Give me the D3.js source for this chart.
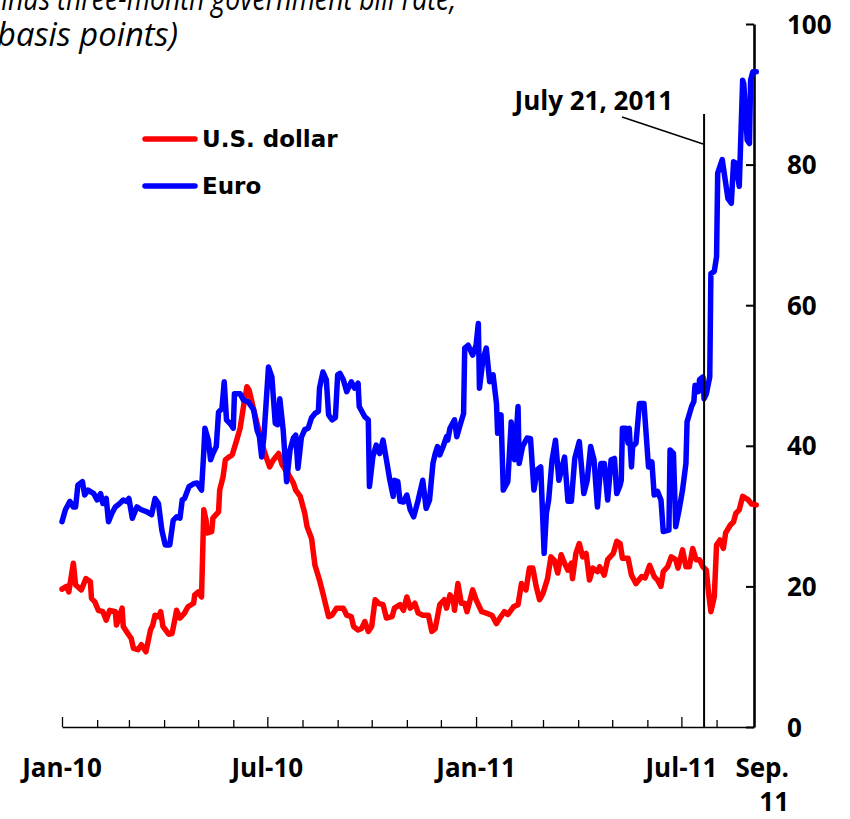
<!DOCTYPE html>
<html>
<head>
<meta charset="utf-8">
<script src="https://cdn.jsdelivr.net/npm/d3@7"></script>
<style>
  body { margin: 0; background: #fff; }
  svg { display: block; }
  .lbl { font-family: "Open Sans", sans-serif; font-weight: 700; font-size: 26px; fill: #000; }
  .ttl { font-family: "Open Sans", sans-serif; font-style: italic; font-size: 32px; fill: #000; }
  .leg { font-family: "DejaVu Sans", sans-serif; font-weight: 700; font-size: 23px; fill: #000; }
</style>
</head>
<body>
<script>
// basis points
const usd = [
  ["2010-01-01",19.6],["2010-01-05",20.0],["2010-01-07",19.2],["2010-01-11",23.3],["2010-01-13",20.2],
  ["2010-01-18",19.5],["2010-01-22",21.1],["2010-01-26",20.7],["2010-01-27",18.3],["2010-01-30",17.8],
  ["2010-02-02",16.6],["2010-02-06",16.4],["2010-02-09",15.2],["2010-02-12",16.6],["2010-02-17",16.4],
  ["2010-02-18",14.5],["2010-02-23",16.9],["2010-02-24",14.3],["2010-02-28",13.3],["2010-03-03",12.6],
  ["2010-03-05",11.2],["2010-03-09",11.0],["2010-03-12",11.7],["2010-03-16",10.7],["2010-03-20",13.8],
  ["2010-03-22",14.5],["2010-03-24",15.9],["2010-03-27",15.7],["2010-03-29",16.4],["2010-03-31",14.3],
  ["2010-04-05",13.2],["2010-04-08",13.3],["2010-04-11",15.7],["2010-04-12",16.6],["2010-04-15",15.5],
  ["2010-04-19",16.2],["2010-04-22",17.1],["2010-04-27",17.6],["2010-04-28",18.8],["2010-05-01",19.2],
  ["2010-05-04",18.5],["2010-05-06",30.9],["2010-05-08",29.4],["2010-05-09",27.6],["2010-05-13",27.8],
  ["2010-05-14",29.7],["2010-05-19",30.6],["2010-05-20",33.7],["2010-05-23",35.6],["2010-05-25",38.0],
  ["2010-05-28",38.4],["2010-05-31",38.7],["2010-06-04",40.8],["2010-06-07",42.5],["2010-06-10",45.6],
  ["2010-06-13",48.4],["2010-06-15",47.9],["2010-06-19",45.1],["2010-06-23",42.5],["2010-06-26",40.4],
  ["2010-06-30",38.4],["2010-07-03",37.0],["2010-07-06",37.9],["2010-07-11",38.9],["2010-07-14",37.3],
  ["2010-07-19",36.1],["2010-07-24",34.7],["2010-07-26",33.7],["2010-07-30",32.8],["2010-08-03",30.4],
  ["2010-08-05",28.5],["2010-08-09",26.8],["2010-08-12",23.0],["2010-08-16",20.9],["2010-08-19",19.0],
  ["2010-08-24",15.7],["2010-08-27",15.9],["2010-08-31",16.9],["2010-09-06",16.9],["2010-09-09",15.9],
  ["2010-09-13",15.7],["2010-09-15",14.3],["2010-09-19",13.8],["2010-09-22",14.0],["2010-09-25",15.0],
  ["2010-09-28",13.6],["2010-10-01",14.3],["2010-10-04",18.1],["2010-10-07",17.6],["2010-10-11",17.4],
  ["2010-10-14",15.5],["2010-10-19",15.7],["2010-10-21",16.9],["2010-10-26",17.4],["2010-10-29",16.6],
  ["2010-11-01",18.5],["2010-11-04",16.9],["2010-11-08",17.6],["2010-11-11",16.2],["2010-11-15",15.9],
  ["2010-11-20",15.9],["2010-11-23",13.6],["2010-11-26",14.0],["2010-11-30",17.4],["2010-12-04",18.1],
  ["2010-12-06",16.9],["2010-12-09",18.8],["2010-12-12",18.1],["2010-12-13",16.6],["2010-12-16",20.4],
  ["2010-12-19",17.6],["2010-12-22",17.6],["2010-12-24",16.4],["2010-12-26",17.6],["2010-12-29",19.5],
  ["2011-01-01",18.1],["2011-01-06",16.4],["2011-01-10",16.2],["2011-01-15",15.9],["2011-01-19",14.7],
  ["2011-01-22",15.5],["2011-01-26",16.4],["2011-01-29",16.0],["2011-02-03",17.1],["2011-02-07",17.4],
  ["2011-02-10",20.4],["2011-02-14",19.5],["2011-02-17",22.6],["2011-02-20",22.6],["2011-02-23",20.0],
  ["2011-02-26",18.1],["2011-03-01",19.0],["2011-03-05",21.1],["2011-03-08",24.2],["2011-03-11",23.7],
  ["2011-03-14",21.9],["2011-03-17",24.5],["2011-03-20",23.3],["2011-03-23",22.3],["2011-03-26",23.3],
  ["2011-03-27",21.1],["2011-03-30",24.7],["2011-04-02",26.1],["2011-04-05",24.2],["2011-04-08",24.7],
  ["2011-04-11",20.9],["2011-04-14",22.6],["2011-04-18",22.1],["2011-04-20",22.8],["2011-04-24",21.6],
  ["2011-04-27",23.8],["2011-05-02",24.7],["2011-05-05",26.4],["2011-05-08",26.1],["2011-05-10",24.0],
  ["2011-05-15",24.0],["2011-05-18",21.6],["2011-05-22",20.4],["2011-05-27",21.4],["2011-05-30",21.2],
  ["2011-06-03",23.0],["2011-06-07",21.4],["2011-06-10",20.9],["2011-06-13",20.0],["2011-06-15",22.1],
  ["2011-06-19",22.8],["2011-06-22",24.2],["2011-06-26",23.8],["2011-06-28",22.6],["2011-07-02",25.2],
  ["2011-07-05",22.8],["2011-07-08",22.8],["2011-07-11",25.4],["2011-07-14",23.8],["2011-07-17",23.8],
  ["2011-07-20",22.8],["2011-07-23",22.3],["2011-07-25",19.0],["2011-07-27",16.4],["2011-07-30",18.5],
  ["2011-08-01",25.9],["2011-08-04",26.6],["2011-08-07",25.4],["2011-08-09",27.6],["2011-08-13",28.7],
  ["2011-08-16",29.2],["2011-08-18",30.4],["2011-08-21",30.9],["2011-08-24",32.8],["2011-08-29",32.3],
  ["2011-09-01",31.7],["2011-09-05",31.6]
];

const eur = [
  ["2010-01-01",29.2],["2010-01-04",30.9],["2010-01-08",32.1],["2010-01-11",31.3],["2010-01-13",31.3],
  ["2010-01-15",34.4],["2010-01-19",34.9],["2010-01-21",33.0],["2010-01-24",33.7],["2010-01-29",33.2],
  ["2010-02-01",32.3],["2010-02-04",33.2],["2010-02-06",31.8],["2010-02-09",32.5],["2010-02-11",29.2],
  ["2010-02-14",30.4],["2010-02-17",31.3],["2010-02-21",31.8],["2010-02-24",32.3],["2010-02-27",32.1],
  ["2010-03-01",32.5],["2010-03-04",29.7],["2010-03-08",31.3],["2010-03-12",30.9],["2010-03-17",30.6],
  ["2010-03-21",30.2],["2010-03-24",32.5],["2010-03-27",31.8],["2010-03-30",28.0],["2010-04-02",25.9],
  ["2010-04-06",25.9],["2010-04-09",29.4],["2010-04-12",29.9],["2010-04-15",29.7],["2010-04-17",32.3],
  ["2010-04-19",32.5],["2010-04-23",34.2],["2010-04-27",34.6],["2010-04-30",34.7],["2010-05-04",33.7],
  ["2010-05-06",39.2],["2010-05-07",42.5],["2010-05-10",40.8],["2010-05-12",38.0],["2010-05-14",38.9],
  ["2010-05-17",39.9],["2010-05-19",44.8],["2010-05-22",45.3],["2010-05-24",49.1],["2010-05-26",43.7],
  ["2010-05-30",43.0],["2010-06-01",42.5],["2010-06-02",47.4],["2010-06-07",47.4],["2010-06-10",46.5],
  ["2010-06-14",46.3],["2010-06-19",45.1],["2010-06-22",42.2],["2010-06-24",41.3],["2010-06-26",38.4],
  ["2010-06-28",41.3],["2010-07-02",51.2],["2010-07-05",49.8],["2010-07-08",43.2],["2010-07-10",43.0],
  ["2010-07-12",46.7],["2010-07-15",42.2],["2010-07-18",34.9],["2010-07-21",39.4],["2010-07-24",41.1],
  ["2010-07-26",41.5],["2010-07-28",36.8],["2010-07-31",41.2],["2010-08-03",42.3],["2010-08-06",42.5],
  ["2010-08-09",44.0],["2010-08-12",44.6],["2010-08-15",44.9],["2010-08-16",48.2],["2010-08-19",50.5],
  ["2010-08-22",49.4],["2010-08-24",44.4],["2010-08-27",43.7],["2010-08-30",44.0],["2010-09-01",50.1],
  ["2010-09-03",50.3],["2010-09-06",49.4],["2010-09-09",47.7],["2010-09-13",49.1],["2010-09-16",48.2],
  ["2010-09-19",48.9],["2010-09-20",45.6],["2010-09-25",44.1],["2010-09-28",43.7],["2010-09-29",34.2],
  ["2010-10-02",38.4],["2010-10-05",40.1],["2010-10-08",38.9],["2010-10-11",40.8],["2010-10-14",38.0],
  ["2010-10-17",35.1],["2010-10-20",32.8],["2010-10-21",35.1],["2010-10-24",34.9],["2010-10-26",32.1],
  ["2010-10-29",32.0],["2010-11-01",33.0],["2010-11-04",30.9],["2010-11-07",29.9],["2010-11-11",32.3],
  ["2010-11-15",35.1],["2010-11-18",31.1],["2010-11-21",32.3],["2010-11-24",37.5],["2010-11-26",38.9],
  ["2010-11-28",39.9],["2010-11-30",38.7],["2010-12-03",39.9],["2010-12-06",41.3],["2010-12-07",40.8],
  ["2010-12-09",42.5],["2010-12-13",43.7],["2010-12-15",41.3],["2010-12-18",43.0],["2010-12-21",44.6],
  ["2010-12-22",53.9],["2010-12-25",54.3],["2010-12-29",52.9],["2011-01-01",54.3],["2011-01-03",57.4],
  ["2011-01-04",48.2],["2011-01-07",52.2],["2011-01-10",53.9],["2011-01-13",49.1],["2011-01-16",50.1],
  ["2011-01-19",46.0],["2011-01-20",41.8],["2011-01-23",44.4],["2011-01-25",33.7],["2011-01-29",34.9],
  ["2011-02-01",43.4],["2011-02-04",38.0],["2011-02-07",45.6],["2011-02-08",37.5],["2011-02-11",39.9],
  ["2011-02-15",41.1],["2011-02-18",41.0],["2011-02-21",33.7],["2011-02-24",36.6],["2011-02-27",37.0],
  ["2011-03-02",24.7],["2011-03-04",30.4],["2011-03-06",32.3],["2011-03-09",38.0],["2011-03-12",40.8],
  ["2011-03-15",35.1],["2011-03-20",38.4],["2011-03-23",32.1],["2011-03-26",32.1],["2011-03-29",38.2],
  ["2011-04-02",40.6],["2011-04-06",33.2],["2011-04-09",35.1],["2011-04-12",39.9],["2011-04-15",38.0],
  ["2011-04-18",31.3],["2011-04-21",37.5],["2011-04-24",37.5],["2011-04-27",32.3],["2011-04-30",38.0],
  ["2011-05-03",38.2],["2011-05-05",33.2],["2011-05-08",34.4],["2011-05-09",35.1],["2011-05-10",42.5],
  ["2011-05-13",42.5],["2011-05-15",40.4],["2011-05-16",42.5],["2011-05-18",37.0],["2011-05-19",39.9],
  ["2011-05-22",40.4],["2011-05-25",46.0],["2011-05-29",46.0],["2011-06-02",37.0],["2011-06-05",37.7],
  ["2011-06-07",33.0],["2011-06-10",33.5],["2011-06-13",32.3],["2011-06-15",27.8],["2011-06-20",28.0],
  ["2011-06-21",39.4],["2011-06-24",38.9],["2011-06-26",28.5],["2011-06-29",30.9],["2011-07-02",33.7],
  ["2011-07-05",37.5],["2011-07-06",43.4],["2011-07-10",45.6],["2011-07-12",46.3],["2011-07-13",48.6],
  ["2011-07-16",47.7],["2011-07-17",49.4],["2011-07-20",49.8],["2011-07-21",46.7],["2011-07-23",47.4],
  ["2011-07-26",49.8],["2011-07-27",64.5],["2011-07-30",64.8],["2011-08-01",66.9],["2011-08-02",78.8],
  ["2011-08-06",80.7],["2011-08-11",75.2],["2011-08-14",74.5],["2011-08-16",80.4],["2011-08-18",80.2],
  ["2011-08-21",76.9],["2011-08-24",92.0],["2011-08-25",91.5],["2011-08-28",83.5],["2011-08-30",83.0],
  ["2011-08-31",92.0],["2011-09-02",93.2],["2011-09-05",93.2]
];

const seriesNames = ["U.S. dollar", "Euro"];
const seriesColors = ["#ff0000", "#0000ff"];
const yTicks = [0, 20, 40, 60, 80, 100];
const xLabels = [["2010-01-01", "Jan-10"], ["2010-07-01", "Jul-10"], ["2011-01-01", "Jan-11"], ["2011-07-01", "Jul-11"]];
const lastLabel = ["Sep.", "11"];
const eventDate = "2011-07-21";
const eventText = "July 21, 2011";
const titleLines = ["minus three-month government bill rate,", "basis points)"];

const W = 850, H = 819;
const parse = d3.timeParse("%Y-%m-%d");
const start = parse("2010-01-01"), end = parse("2011-09-03");

const x = d3.scaleTime().domain([start, end]).range([62, 754]);
const y = d3.scaleLinear().domain([0, 100]).range([727, 24]);

const svg = d3.select("body").append("svg").attr("width", W).attr("height", H);

// title (cut off at top-left like the source); squeezed to the source's narrower face
svg.append("text").attr("class", "ttl").attr("x", -22).attr("y", 10)
   .attr("textLength", 478).attr("lengthAdjust", "spacingAndGlyphs").text(titleLines[0]);
svg.append("text").attr("class", "ttl").attr("x", -3).attr("y", 46)
   .attr("textLength", 181).attr("lengthAdjust", "spacingAndGlyphs").text(titleLines[1]);

// x axis with monthly ticks pointing up
const months = d3.timeMonth.range(start, parse("2011-09-01"));
const xAxis = d3.axisBottom(x).tickValues(months).tickSize(-7).tickSizeOuter(0).tickFormat("");
const gx = svg.append("g").attr("transform", "translate(0,727)").call(xAxis);
gx.select(".domain").attr("stroke", "#000").attr("stroke-width", 1.3);
gx.selectAll(".tick line").attr("stroke", "#000").attr("stroke-width", 1.3)
  .attr("y2", d => (d.getMonth() % 6 === 0) ? -10 : -7);

xLabels.forEach(([d, t]) => {
  svg.append("text").attr("class", "lbl").attr("x", x(parse(d))).attr("y", 777)
     .attr("text-anchor", "middle").text(t);
});
lastLabel.forEach((t, i) => {
  svg.append("text").attr("class", "lbl").attr("x", x(end) + 35).attr("y", 777 + i * 34)
     .attr("text-anchor", "end").text(t);
});

// right y axis
const yAxis = d3.axisRight(y).tickValues(yTicks).tickSizeInner(-8).tickSizeOuter(0).tickPadding(33);
const gy = svg.append("g").attr("transform", "translate(754,0)").call(yAxis);
gy.select(".domain").attr("stroke", "#000").attr("stroke-width", 2.6);
gy.selectAll(".tick line").attr("stroke", "#000").attr("stroke-width", 2);
gy.selectAll(".tick text").attr("class", "lbl").attr("fill", "#000")
  .style("font-size", "26px").attr("dy", "0.35em");

// series lines
const line = d3.line().x(d => x(parse(d[0]))).y(d => y(d[1]));
[usd, eur].forEach((s, i) => {
  svg.append("path").datum(s).attr("d", line)
     .attr("fill", "none").attr("stroke", seriesColors[i]).attr("stroke-width", 5.5)
     .attr("stroke-linejoin", "round").attr("stroke-linecap", "round");
});

// July 21 marker
const ex = x(parse(eventDate));
svg.append("line").attr("x1", ex).attr("x2", ex).attr("y1", 114).attr("y2", 727)
   .attr("stroke", "#000").attr("stroke-width", 2);
svg.append("line").attr("x1", ex - 82).attr("y1", 117).attr("x2", ex - 1).attr("y2", 144)
   .attr("stroke", "#000").attr("stroke-width", 1.5);
svg.append("text").attr("class", "lbl").attr("x", ex - 31).attr("y", 110)
   .attr("text-anchor", "end").text(eventText);

// legend
seriesNames.forEach((n, i) => {
  const ly = 139 + i * 47;
  svg.append("line").attr("x1", 145).attr("x2", 195).attr("y1", ly).attr("y2", ly)
     .attr("stroke", seriesColors[i]).attr("stroke-width", 5.5).attr("stroke-linecap", "round");
  svg.append("text").attr("class", "leg").attr("x", 202).attr("y", ly + 8).text(n);
});
</script>
</body>
</html>
